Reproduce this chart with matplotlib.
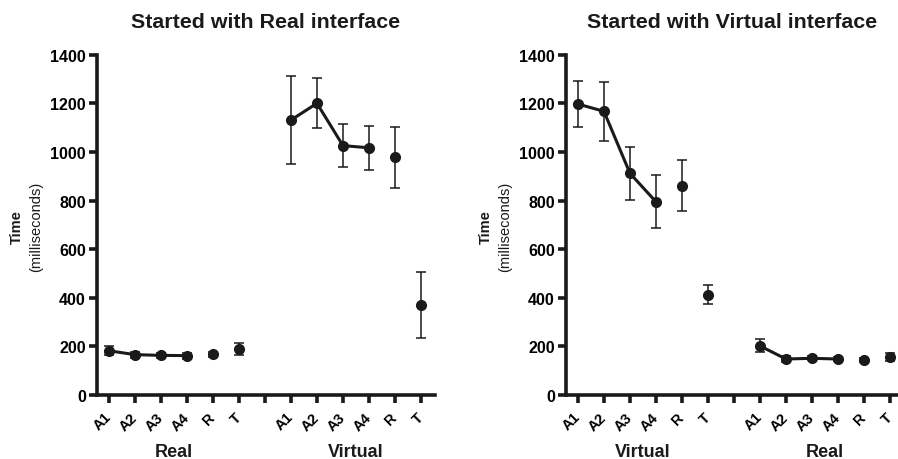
import matplotlib
matplotlib.use("Agg")
import matplotlib.pyplot as plt

plt.rcParams["font.family"] = ["Liberation Sans", "DejaVu Sans"]

tick_labels = ["A1", "A2", "A3", "A4", "R", "T"]

# Started with Real interface: Real block, then Virtual block
left_real_mean = [182, 166, 163, 162, 167, 188]
left_real_err = [18, 12, 10, 12, 10, 24]
left_virt_mean = [1131, 1200, 1026, 1017, 978, 372]
left_virt_err = [182, 103, 90, 90, 126, 136]

# Started with Virtual interface: Virtual block, then Real block
right_virt_mean = [1197, 1167, 912, 795, 860, 413]
right_virt_err = [95, 121, 108, 109, 105, 40]
right_real_mean = [202, 148, 151, 148, 143, 156]
right_real_err = [27, 14, 8, 10, 8, 15]

panels = [
    ("Started with Real interface", ("Real", left_real_mean, left_real_err),
     ("Virtual", left_virt_mean, left_virt_err), (97, 435)),
    ("Started with Virtual interface", ("Virtual", right_virt_mean, right_virt_err),
     ("Real", right_real_mean, right_real_err), (566, 898)),
]

W, H = 898, 460
fig = plt.figure(figsize=(W / 100, H / 100), dpi=100)

y_top, y_bot = 55.7, 396
ink = "#1a1a1a"

for title, first, second, (px0, px1) in panels:
    ax = fig.add_axes([px0 / W, 1 - y_bot / H, (px1 - px0) / W, (y_bot - y_top) / H])
    pos1 = [1, 2, 3, 4, 5, 6]
    pos2 = [8, 9, 10, 11, 12, 13]
    for pos, (name, mean, err) in ((pos1, first), (pos2, second)):
        # A1..A4 joined by a line, R and T stand alone
        ax.plot(pos[:4], mean[:4], color=ink, lw=2.2, zorder=2)
        ax.errorbar(pos, mean, yerr=err, fmt="o", color=ink, ms=7,
                    ecolor=ink, elinewidth=1.1, capsize=3.6, capthick=1.1, zorder=3)
    ax.set_ylim(0, 1400)
    ax.set_yticks(range(0, 1401, 200))
    ax.set_xlim(0.54, 0.54 + (px1 - px0) / 26.0)
    ax.set_xticks(list(range(1, 14)))
    ax.set_xticklabels(tick_labels + [""] + tick_labels, rotation=45,
                       rotation_mode="anchor", ha="right", va="center",
                       fontweight="bold", fontsize=10.5)
    for lab in ax.get_yticklabels():
        lab.set_fontweight("bold")
        lab.set_fontsize(11.5)
    for s in ("top", "right"):
        ax.spines[s].set_visible(False)
    for s in ("left", "bottom"):
        ax.spines[s].set_linewidth(2.6)
        ax.spines[s].set_color(ink)
    ax.tick_params(axis="both", width=2.6, length=6, color=ink, pad=2)
    ax.tick_params(axis="x", pad=8)
    # title centred over the axes
    fig.text((px0 + px1) / 2 / W, 1 - 22 / H, title, ha="center", va="center",
             fontweight="bold", fontsize=15.4, color=ink)
    # group names under the tick labels
    ax.text(3.5, -0.165, first[0], transform=ax.get_xaxis_transform(),
            ha="center", va="center", fontweight="bold", fontsize=13, color=ink)
    ax.text(10.5, -0.165, second[0], transform=ax.get_xaxis_transform(),
            ha="center", va="center", fontweight="bold", fontsize=13, color=ink)
    # two-line y label: bold "Time" and plain "(milliseconds)"
    fig.text((px0 - 80) / W, 1 - 227 / H, "Time", rotation=90, ha="center",
             va="center", fontweight="bold", fontsize=10.5, color=ink)
    fig.text((px0 - 61) / W, 1 - 227 / H, "(milliseconds)", rotation=90,
             ha="center", va="center", fontsize=10.5, color=ink)

fig.savefig("out.png", dpi=100)
